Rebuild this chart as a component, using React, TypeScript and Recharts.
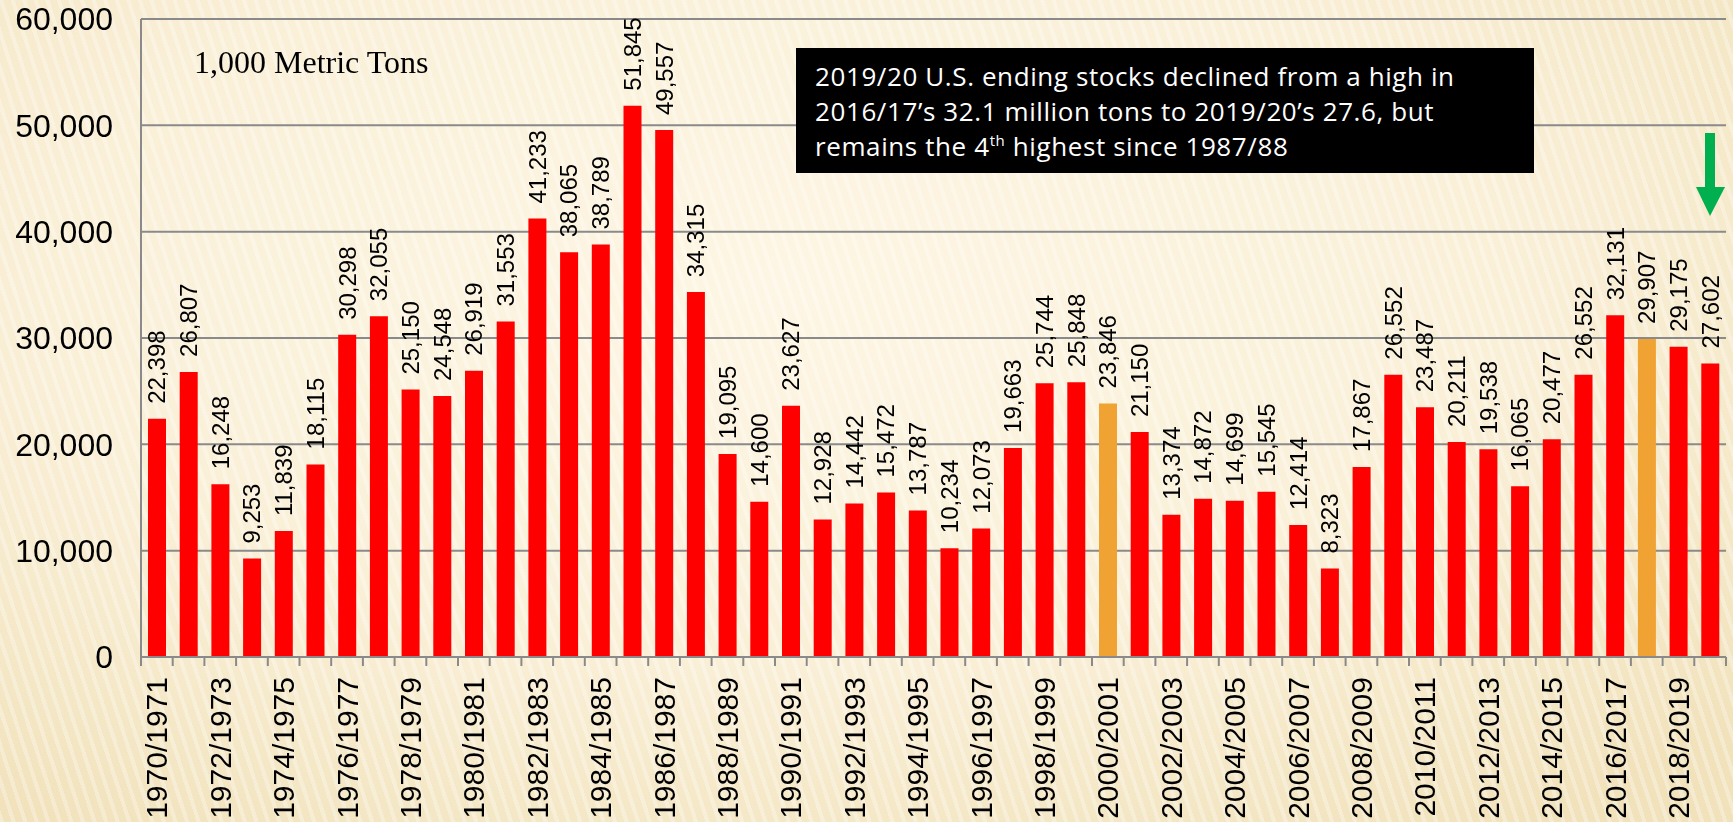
import React from "react";
import { BarChart, Bar, XAxis, YAxis, CartesianGrid, Cell, LabelList } from "recharts";

const categories = [
  "1970/1971", "1971/1972", "1972/1973", "1973/1974", "1974/1975", "1975/1976", "1976/1977", "1977/1978",
  "1978/1979", "1979/1980", "1980/1981", "1981/1982", "1982/1983", "1983/1984", "1984/1985", "1985/1986",
  "1986/1987", "1987/1988", "1988/1989", "1989/1990", "1990/1991", "1991/1992", "1992/1993", "1993/1994",
  "1994/1995", "1995/1996", "1996/1997", "1997/1998", "1998/1999", "1999/2000", "2000/2001", "2001/2002",
  "2002/2003", "2003/2004", "2004/2005", "2005/2006", "2006/2007", "2007/2008", "2008/2009", "2009/2010",
  "2010/2011", "2011/2012", "2012/2013", "2013/2014", "2014/2015", "2015/2016", "2016/2017", "2017/2018",
  "2018/2019", "2019/2020",
];

const endingStocks = [
  22398, 26807, 16248, 9253, 11839, 18115, 30298, 32055,
  25150, 24548, 26919, 31553, 41233, 38065, 38789, 51845,
  49557, 34315, 19095, 14600, 23627, 12928, 14442, 15472,
  13787, 10234, 12073, 19663, 25744, 25848, 23846, 21150,
  13374, 14872, 14699, 15545, 12414, 8323, 17867, 26552,
  23487, 20211, 19538, 16065, 20477, 26552, 32131, 29907,
  29175, 27602,
];

const highlightedCategories = ["2000/2001", "2017/2018"];

const yTicks = [0, 10000, 20000, 30000, 40000, 50000, 60000];

const data = categories.map((c, i) => ({ category: c, stocks: endingStocks[i] }));

const W = 1733;
const H = 822;
const MARGIN = { top: 19, right: 7, left: 0, bottom: 0 };
const YAXIS_W = 141;
const XAXIS_H = 165;
const GRAY = "#8a8a8a";
const FONT = "'Liberation Sans', Arial, sans-serif";

const fmt = (v: number) => v.toLocaleString("en-US");

function XTick(props: any) {
  const { x, y, payload, index } = props;
  const plotW = W - MARGIN.left - MARGIN.right - YAXIS_W;
  const half = payload && payload.offset ? payload.offset : plotW / categories.length / 2;
  const showLabel = index % 2 === 0;
  const isLast = index === categories.length - 1;
  return (
    <g>
      <line x1={x - half} x2={x - half} y1={y} y2={y + 9} stroke={GRAY} strokeWidth={2} />
      {isLast && <line x1={x + half} x2={x + half} y1={y} y2={y + 9} stroke={GRAY} strokeWidth={2} />}
      {showLabel && (
        <text
          x={x}
          y={y + 20}
          transform={`rotate(-90, ${x}, ${y + 20})`}
          textAnchor="end"
          dy="0.35em"
          fontSize={30}
          fontFamily={FONT}
          fill="#000"
        >
          {payload.value}
        </text>
      )}
    </g>
  );
}

function ValueLabel(props: any) {
  const { x, y, width, value } = props;
  const cx = x + width / 2;
  const ty = y - 15;
  return (
    <text
      x={cx}
      y={ty}
      transform={`rotate(-90, ${cx}, ${ty})`}
      textAnchor="start"
      dy="0.35em"
      fontSize={24}
      fontFamily={FONT}
      fill="#000"
    >
      {fmt(value)}
    </text>
  );
}

export default function App() {
  return (
    <div
      style={{
        position: "fixed",
        left: 0,
        top: 0,
        width: W,
        height: H,
        overflow: "hidden",
        background:
          "repeating-linear-gradient(72deg, rgba(255,255,255,0.3) 0px, rgba(255,255,255,0.3) 4px, rgba(0,0,0,0) 4px, rgba(0,0,0,0) 11px), radial-gradient(ellipse 75% 80% at 45% 35%, #fdf6e4 0%, #faf0d8 55%, #f1e2bb 100%)",
      }}
    >
      <BarChart width={W} height={H} data={data} margin={MARGIN} barSize={18}>
        <CartesianGrid vertical={false} stroke={GRAY} strokeWidth={2} />
        <XAxis
          dataKey="category"
          interval={0}
          height={XAXIS_H}
          tickLine={false}
          tickSize={0}
          tickMargin={0}
          axisLine={{ stroke: GRAY, strokeWidth: 2 }}
          tick={<XTick />}
        />
        <YAxis
          width={YAXIS_W}
          domain={[0, 60000]}
          ticks={yTicks}
          interval={0}
          tickLine={false}
          tickSize={0}
          tickMargin={28}
          axisLine={{ stroke: GRAY, strokeWidth: 2 }}
          tickFormatter={fmt}
          tick={{ fontSize: 32, fontFamily: FONT, fill: "#000" }}
        />
        <Bar dataKey="stocks" isAnimationActive={false}>
          {data.map((d) => (
            <Cell key={d.category} fill={highlightedCategories.includes(d.category) ? "#f0a232" : "#ff0000"} />
          ))}
          <LabelList dataKey="stocks" content={<ValueLabel />} />
        </Bar>
      </BarChart>

      <div
        style={{
          position: "absolute",
          left: 194,
          top: 44,
          fontFamily: "'Liberation Serif', 'Times New Roman', serif",
          fontSize: 32,
          lineHeight: "36px",
          color: "#000",
          whiteSpace: "nowrap",
        }}
      >
        1,000 Metric Tons
      </div>

      <div
        style={{
          position: "absolute",
          left: 796,
          top: 48,
          width: 738,
          height: 125,
          background: "#000",
          color: "#fff",
          fontFamily: "'Open Sans', Roboto, sans-serif",
          fontSize: 26,
          fontWeight: 500,
          lineHeight: "35px",
          letterSpacing: 0.6,
          padding: "11px 0 0 19px",
          boxSizing: "border-box",
          whiteSpace: "nowrap",
        }}
      >
        <div>2019/20 U.S. ending stocks declined from a high in</div>
        <div>2016/17’s 32.1 million tons to 2019/20’s 27.6, but</div>
        <div>
          remains the 4<sup style={{ fontSize: 15, lineHeight: 0 }}>th</sup> highest since 1987/88
        </div>
      </div>

      <svg style={{ position: "absolute", left: 0, top: 0 }} width={W} height={H} pointerEvents="none">
        <rect x={1705} y={133} width={10} height={56} fill="#00b050" />
        <polygon points="1696,187 1725,187 1710,216" fill="#00b050" />
      </svg>
    </div>
  );
}
